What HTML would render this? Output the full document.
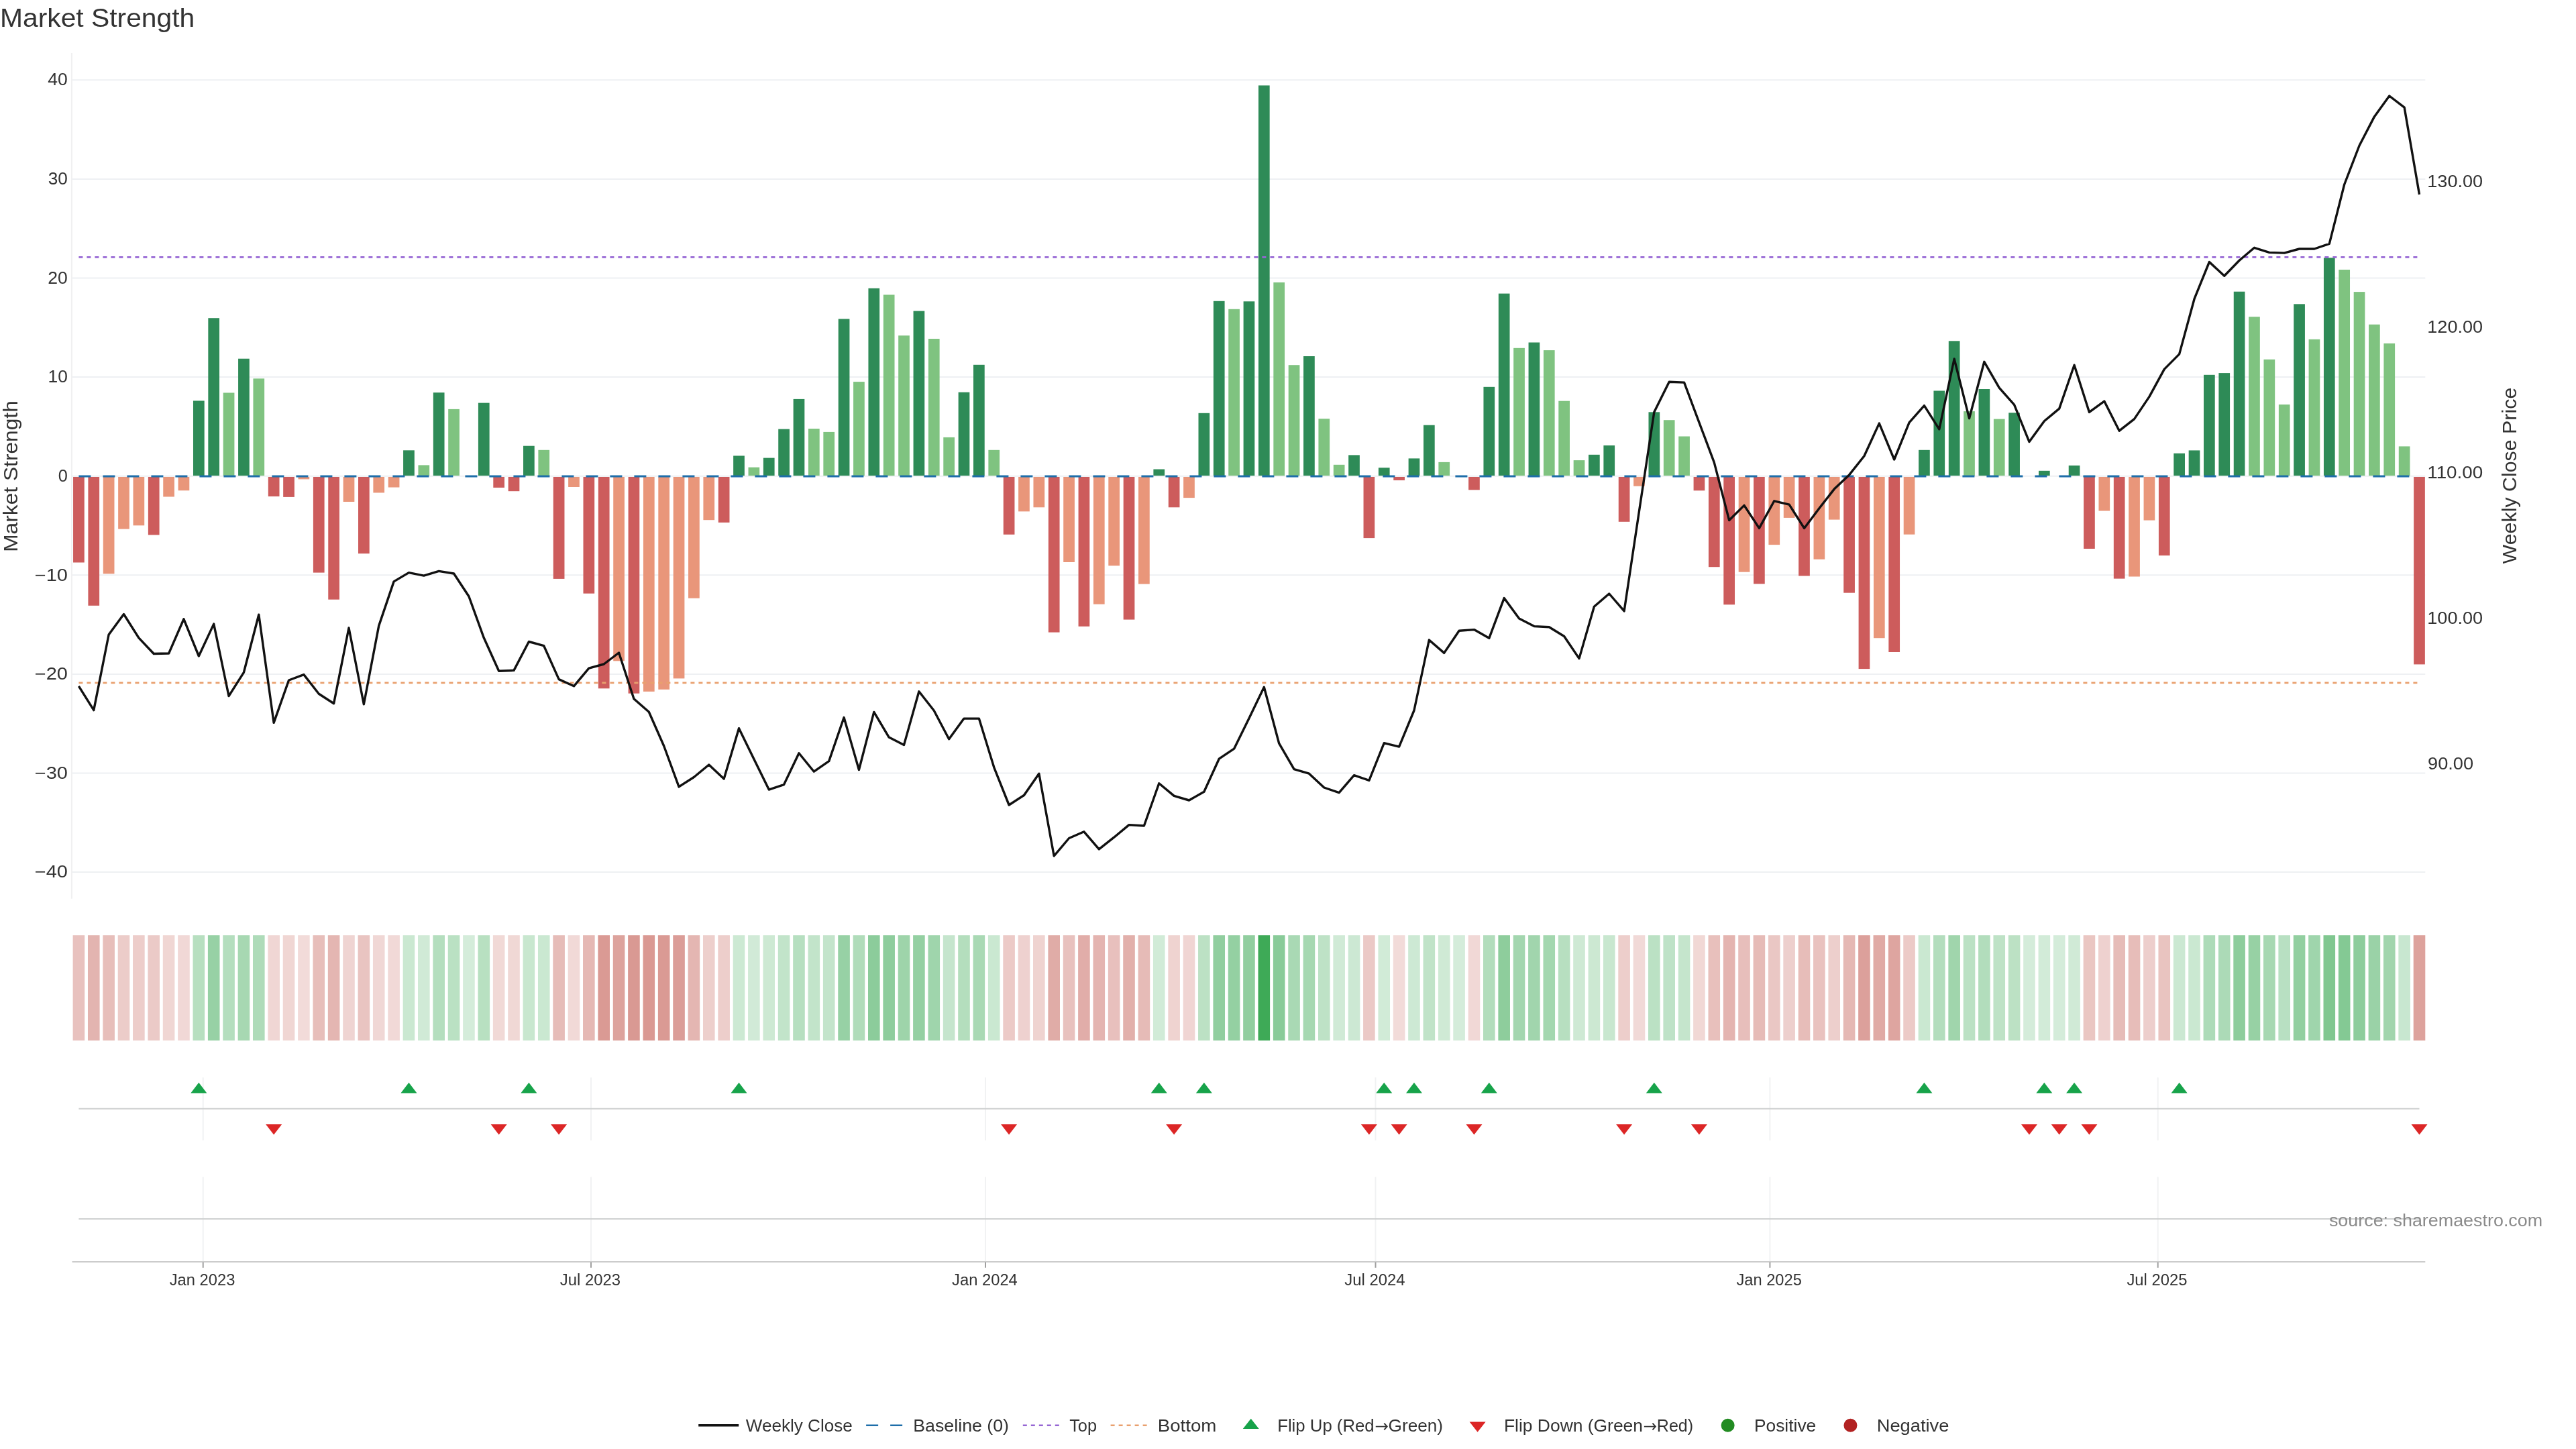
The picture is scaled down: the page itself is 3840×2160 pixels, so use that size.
<!DOCTYPE html>
<html><head><meta charset="utf-8"><title>Market Strength</title><style>html,body{margin:0;padding:0;background:#fff;width:3840px;height:2160px;overflow:hidden}body{position:relative;font-family:"Liberation Sans",sans-serif}</style></head><body>
<svg width="3840" height="2160" viewBox="0 0 3840 2160" style="position:absolute;left:0;top:0;will-change:transform;font-family:'Liberation Sans',sans-serif">
<rect width="3840" height="2160" fill="#fff"/>
<line x1="107.0" x2="3615.3" y1="1300.12" y2="1300.12" stroke="#EEF0F3" stroke-width="2"/>
<line x1="107.0" x2="3615.3" y1="1152.52" y2="1152.52" stroke="#EEF0F3" stroke-width="2"/>
<line x1="107.0" x2="3615.3" y1="1004.91" y2="1004.91" stroke="#EEF0F3" stroke-width="2"/>
<line x1="107.0" x2="3615.3" y1="857.31" y2="857.31" stroke="#EEF0F3" stroke-width="2"/>
<line x1="107.0" x2="3615.3" y1="709.70" y2="709.70" stroke="#EEF0F3" stroke-width="2"/>
<line x1="107.0" x2="3615.3" y1="562.10" y2="562.10" stroke="#EEF0F3" stroke-width="2"/>
<line x1="107.0" x2="3615.3" y1="414.49" y2="414.49" stroke="#EEF0F3" stroke-width="2"/>
<line x1="107.0" x2="3615.3" y1="266.89" y2="266.89" stroke="#EEF0F3" stroke-width="2"/>
<line x1="107.0" x2="3615.3" y1="119.28" y2="119.28" stroke="#EEF0F3" stroke-width="2"/>
<line x1="106.9" x2="106.9" y1="79" y2="1339.8" stroke="#F0F0F1" stroke-width="2"/>
<rect x="109.05" y="711.00" width="16.7" height="127.50" fill="#CD5C5C"/>
<rect x="131.42" y="711.00" width="16.7" height="191.80" fill="#CD5C5C"/>
<rect x="153.78" y="711.00" width="16.7" height="144.30" fill="#E9967A"/>
<rect x="176.15" y="711.00" width="16.7" height="77.60" fill="#E9967A"/>
<rect x="198.51" y="711.00" width="16.7" height="72.30" fill="#E9967A"/>
<rect x="220.88" y="711.00" width="16.7" height="86.40" fill="#CD5C5C"/>
<rect x="243.25" y="711.00" width="16.7" height="29.50" fill="#E9967A"/>
<rect x="265.61" y="711.00" width="16.7" height="20.20" fill="#E9967A"/>
<rect x="287.98" y="597.40" width="16.7" height="111.60" fill="#2E8B57"/>
<rect x="310.34" y="474.20" width="16.7" height="234.80" fill="#2E8B57"/>
<rect x="332.71" y="585.50" width="16.7" height="123.50" fill="#7FC380"/>
<rect x="355.08" y="534.70" width="16.7" height="174.30" fill="#2E8B57"/>
<rect x="377.44" y="564.30" width="16.7" height="144.70" fill="#7FC380"/>
<rect x="399.81" y="711.00" width="16.7" height="29.00" fill="#CD5C5C"/>
<rect x="422.17" y="711.00" width="16.7" height="29.90" fill="#CD5C5C"/>
<rect x="444.54" y="711.00" width="16.7" height="3.40" fill="#E9967A"/>
<rect x="466.91" y="711.00" width="16.7" height="142.60" fill="#CD5C5C"/>
<rect x="489.27" y="711.00" width="16.7" height="182.70" fill="#CD5C5C"/>
<rect x="511.64" y="711.00" width="16.7" height="37.00" fill="#E9967A"/>
<rect x="534.00" y="711.00" width="16.7" height="114.20" fill="#CD5C5C"/>
<rect x="556.37" y="711.00" width="16.7" height="23.50" fill="#E9967A"/>
<rect x="578.74" y="711.00" width="16.7" height="15.50" fill="#E9967A"/>
<rect x="601.10" y="671.30" width="16.7" height="37.70" fill="#2E8B57"/>
<rect x="623.47" y="693.40" width="16.7" height="15.60" fill="#7FC380"/>
<rect x="645.83" y="585.20" width="16.7" height="123.80" fill="#2E8B57"/>
<rect x="668.20" y="609.90" width="16.7" height="99.10" fill="#7FC380"/>
<rect x="712.93" y="600.60" width="16.7" height="108.40" fill="#2E8B57"/>
<rect x="735.30" y="711.00" width="16.7" height="15.90" fill="#CD5C5C"/>
<rect x="757.66" y="711.00" width="16.7" height="21.20" fill="#CD5C5C"/>
<rect x="780.03" y="664.70" width="16.7" height="44.30" fill="#2E8B57"/>
<rect x="802.40" y="670.80" width="16.7" height="38.20" fill="#7FC380"/>
<rect x="824.76" y="711.00" width="16.7" height="151.90" fill="#CD5C5C"/>
<rect x="847.13" y="711.00" width="16.7" height="15.00" fill="#E9967A"/>
<rect x="869.49" y="711.00" width="16.7" height="173.70" fill="#CD5C5C"/>
<rect x="891.86" y="711.00" width="16.7" height="315.30" fill="#CD5C5C"/>
<rect x="914.23" y="711.00" width="16.7" height="274.30" fill="#E9967A"/>
<rect x="936.59" y="711.00" width="16.7" height="322.70" fill="#CD5C5C"/>
<rect x="958.96" y="711.00" width="16.7" height="319.90" fill="#E9967A"/>
<rect x="981.32" y="711.00" width="16.7" height="316.80" fill="#E9967A"/>
<rect x="1003.69" y="711.00" width="16.7" height="300.40" fill="#E9967A"/>
<rect x="1026.06" y="711.00" width="16.7" height="180.80" fill="#E9967A"/>
<rect x="1048.42" y="711.00" width="16.7" height="64.20" fill="#E9967A"/>
<rect x="1070.79" y="711.00" width="16.7" height="67.90" fill="#CD5C5C"/>
<rect x="1093.15" y="679.40" width="16.7" height="29.60" fill="#2E8B57"/>
<rect x="1115.52" y="696.60" width="16.7" height="12.40" fill="#7FC380"/>
<rect x="1137.89" y="682.60" width="16.7" height="26.40" fill="#2E8B57"/>
<rect x="1160.25" y="639.60" width="16.7" height="69.40" fill="#2E8B57"/>
<rect x="1182.62" y="594.90" width="16.7" height="114.10" fill="#2E8B57"/>
<rect x="1204.98" y="639.00" width="16.7" height="70.00" fill="#7FC380"/>
<rect x="1227.35" y="643.90" width="16.7" height="65.10" fill="#7FC380"/>
<rect x="1249.72" y="475.40" width="16.7" height="233.60" fill="#2E8B57"/>
<rect x="1272.08" y="569.10" width="16.7" height="139.90" fill="#7FC380"/>
<rect x="1294.45" y="429.70" width="16.7" height="279.30" fill="#2E8B57"/>
<rect x="1316.81" y="439.40" width="16.7" height="269.60" fill="#7FC380"/>
<rect x="1339.18" y="500.20" width="16.7" height="208.80" fill="#7FC380"/>
<rect x="1361.55" y="463.60" width="16.7" height="245.40" fill="#2E8B57"/>
<rect x="1383.91" y="505.00" width="16.7" height="204.00" fill="#7FC380"/>
<rect x="1406.28" y="651.90" width="16.7" height="57.10" fill="#7FC380"/>
<rect x="1428.64" y="584.70" width="16.7" height="124.30" fill="#2E8B57"/>
<rect x="1451.01" y="543.80" width="16.7" height="165.20" fill="#2E8B57"/>
<rect x="1473.38" y="670.80" width="16.7" height="38.20" fill="#7FC380"/>
<rect x="1495.74" y="711.00" width="16.7" height="85.80" fill="#CD5C5C"/>
<rect x="1518.11" y="711.00" width="16.7" height="51.40" fill="#E9967A"/>
<rect x="1540.47" y="711.00" width="16.7" height="45.30" fill="#E9967A"/>
<rect x="1562.84" y="711.00" width="16.7" height="231.60" fill="#CD5C5C"/>
<rect x="1585.21" y="711.00" width="16.7" height="127.00" fill="#E9967A"/>
<rect x="1607.57" y="711.00" width="16.7" height="222.80" fill="#CD5C5C"/>
<rect x="1629.94" y="711.00" width="16.7" height="189.70" fill="#E9967A"/>
<rect x="1652.30" y="711.00" width="16.7" height="132.30" fill="#E9967A"/>
<rect x="1674.67" y="711.00" width="16.7" height="212.60" fill="#CD5C5C"/>
<rect x="1697.04" y="711.00" width="16.7" height="159.60" fill="#E9967A"/>
<rect x="1719.40" y="699.50" width="16.7" height="9.50" fill="#2E8B57"/>
<rect x="1741.77" y="711.00" width="16.7" height="45.30" fill="#CD5C5C"/>
<rect x="1764.13" y="711.00" width="16.7" height="31.10" fill="#E9967A"/>
<rect x="1786.50" y="615.80" width="16.7" height="93.20" fill="#2E8B57"/>
<rect x="1808.87" y="448.80" width="16.7" height="260.20" fill="#2E8B57"/>
<rect x="1831.23" y="460.80" width="16.7" height="248.20" fill="#7FC380"/>
<rect x="1853.60" y="449.30" width="16.7" height="259.70" fill="#2E8B57"/>
<rect x="1875.96" y="127.40" width="16.7" height="581.60" fill="#2E8B57"/>
<rect x="1898.33" y="421.00" width="16.7" height="288.00" fill="#7FC380"/>
<rect x="1920.70" y="544.20" width="16.7" height="164.80" fill="#7FC380"/>
<rect x="1943.06" y="531.00" width="16.7" height="178.00" fill="#2E8B57"/>
<rect x="1965.43" y="624.20" width="16.7" height="84.80" fill="#7FC380"/>
<rect x="1987.79" y="692.80" width="16.7" height="16.20" fill="#7FC380"/>
<rect x="2010.16" y="678.40" width="16.7" height="30.60" fill="#2E8B57"/>
<rect x="2032.53" y="711.00" width="16.7" height="91.10" fill="#CD5C5C"/>
<rect x="2054.89" y="697.20" width="16.7" height="11.80" fill="#2E8B57"/>
<rect x="2077.26" y="711.00" width="16.7" height="5.00" fill="#CD5C5C"/>
<rect x="2099.62" y="683.40" width="16.7" height="25.60" fill="#2E8B57"/>
<rect x="2121.99" y="633.70" width="16.7" height="75.30" fill="#2E8B57"/>
<rect x="2144.36" y="688.90" width="16.7" height="20.10" fill="#7FC380"/>
<rect x="2189.09" y="711.00" width="16.7" height="19.30" fill="#CD5C5C"/>
<rect x="2211.45" y="576.80" width="16.7" height="132.20" fill="#2E8B57"/>
<rect x="2233.82" y="437.60" width="16.7" height="271.40" fill="#2E8B57"/>
<rect x="2256.19" y="518.80" width="16.7" height="190.20" fill="#7FC380"/>
<rect x="2278.55" y="510.50" width="16.7" height="198.50" fill="#2E8B57"/>
<rect x="2300.92" y="522.10" width="16.7" height="186.90" fill="#7FC380"/>
<rect x="2323.28" y="597.70" width="16.7" height="111.30" fill="#7FC380"/>
<rect x="2345.65" y="686.10" width="16.7" height="22.90" fill="#7FC380"/>
<rect x="2368.02" y="677.80" width="16.7" height="31.20" fill="#2E8B57"/>
<rect x="2390.38" y="664.00" width="16.7" height="45.00" fill="#2E8B57"/>
<rect x="2412.75" y="711.00" width="16.7" height="66.80" fill="#CD5C5C"/>
<rect x="2435.11" y="711.00" width="16.7" height="13.70" fill="#E9967A"/>
<rect x="2457.48" y="614.30" width="16.7" height="94.70" fill="#2E8B57"/>
<rect x="2479.85" y="626.20" width="16.7" height="82.80" fill="#7FC380"/>
<rect x="2502.21" y="650.50" width="16.7" height="58.50" fill="#7FC380"/>
<rect x="2524.58" y="711.00" width="16.7" height="20.30" fill="#CD5C5C"/>
<rect x="2546.94" y="711.00" width="16.7" height="134.20" fill="#CD5C5C"/>
<rect x="2569.31" y="711.00" width="16.7" height="190.30" fill="#CD5C5C"/>
<rect x="2591.68" y="711.00" width="16.7" height="141.70" fill="#E9967A"/>
<rect x="2614.04" y="711.00" width="16.7" height="159.40" fill="#CD5C5C"/>
<rect x="2636.41" y="711.00" width="16.7" height="101.10" fill="#E9967A"/>
<rect x="2658.77" y="711.00" width="16.7" height="60.90" fill="#E9967A"/>
<rect x="2681.14" y="711.00" width="16.7" height="147.50" fill="#CD5C5C"/>
<rect x="2703.51" y="711.00" width="16.7" height="122.80" fill="#E9967A"/>
<rect x="2725.87" y="711.00" width="16.7" height="63.60" fill="#E9967A"/>
<rect x="2748.24" y="711.00" width="16.7" height="172.70" fill="#CD5C5C"/>
<rect x="2770.60" y="711.00" width="16.7" height="286.10" fill="#CD5C5C"/>
<rect x="2792.97" y="711.00" width="16.7" height="240.20" fill="#E9967A"/>
<rect x="2815.34" y="711.00" width="16.7" height="261.00" fill="#CD5C5C"/>
<rect x="2837.70" y="711.00" width="16.7" height="85.70" fill="#E9967A"/>
<rect x="2860.07" y="670.80" width="16.7" height="38.20" fill="#2E8B57"/>
<rect x="2882.43" y="582.50" width="16.7" height="126.50" fill="#2E8B57"/>
<rect x="2904.80" y="508.30" width="16.7" height="200.70" fill="#2E8B57"/>
<rect x="2927.17" y="613.10" width="16.7" height="95.90" fill="#7FC380"/>
<rect x="2949.53" y="580.00" width="16.7" height="129.00" fill="#2E8B57"/>
<rect x="2971.90" y="624.60" width="16.7" height="84.40" fill="#7FC380"/>
<rect x="2994.26" y="615.30" width="16.7" height="93.70" fill="#2E8B57"/>
<rect x="3039.00" y="701.80" width="16.7" height="7.20" fill="#2E8B57"/>
<rect x="3083.73" y="693.90" width="16.7" height="15.10" fill="#2E8B57"/>
<rect x="3106.09" y="711.00" width="16.7" height="107.00" fill="#CD5C5C"/>
<rect x="3128.46" y="711.00" width="16.7" height="50.50" fill="#E9967A"/>
<rect x="3150.83" y="711.00" width="16.7" height="151.60" fill="#CD5C5C"/>
<rect x="3173.19" y="711.00" width="16.7" height="148.50" fill="#E9967A"/>
<rect x="3195.56" y="711.00" width="16.7" height="64.60" fill="#E9967A"/>
<rect x="3217.92" y="711.00" width="16.7" height="117.10" fill="#CD5C5C"/>
<rect x="3240.29" y="675.80" width="16.7" height="33.20" fill="#2E8B57"/>
<rect x="3262.66" y="671.40" width="16.7" height="37.60" fill="#2E8B57"/>
<rect x="3285.02" y="558.80" width="16.7" height="150.20" fill="#2E8B57"/>
<rect x="3307.39" y="556.10" width="16.7" height="152.90" fill="#2E8B57"/>
<rect x="3329.75" y="434.70" width="16.7" height="274.30" fill="#2E8B57"/>
<rect x="3352.12" y="472.20" width="16.7" height="236.80" fill="#7FC380"/>
<rect x="3374.49" y="535.80" width="16.7" height="173.20" fill="#7FC380"/>
<rect x="3396.85" y="603.00" width="16.7" height="106.00" fill="#7FC380"/>
<rect x="3419.22" y="453.30" width="16.7" height="255.70" fill="#2E8B57"/>
<rect x="3441.58" y="505.80" width="16.7" height="203.20" fill="#7FC380"/>
<rect x="3463.95" y="384.30" width="16.7" height="324.70" fill="#2E8B57"/>
<rect x="3486.32" y="402.00" width="16.7" height="307.00" fill="#7FC380"/>
<rect x="3508.68" y="435.10" width="16.7" height="273.90" fill="#7FC380"/>
<rect x="3531.05" y="483.70" width="16.7" height="225.30" fill="#7FC380"/>
<rect x="3553.41" y="511.90" width="16.7" height="197.10" fill="#7FC380"/>
<rect x="3575.78" y="665.40" width="16.7" height="43.60" fill="#7FC380"/>
<rect x="3598.15" y="711.00" width="16.7" height="279.40" fill="#CD5C5C"/>
<line x1="117.40" x2="3606.50" y1="710.0" y2="710.0" stroke="#1E6EAA" stroke-width="3" stroke-dasharray="18,18"/>
<line x1="117.40" x2="3606.50" y1="383.3" y2="383.3" stroke="#9666D4" stroke-width="2.8" stroke-dasharray="6,6"/>
<line x1="117.40" x2="3606.50" y1="1017.9" y2="1017.9" stroke="#E9A06E" stroke-width="2.8" stroke-dasharray="6,6"/>
<polyline points="117.40,1022.80 139.77,1058.60 162.13,946.00 184.50,915.50 206.86,950.80 229.23,974.50 251.60,974.00 273.96,922.80 296.33,978.00 318.69,930.10 341.06,1037.60 363.43,1002.30 385.79,916.20 408.16,1077.40 430.52,1014.00 452.89,1005.60 475.26,1034.30 497.62,1048.70 519.99,936.00 542.35,1049.80 564.72,932.90 587.09,866.90 609.45,853.60 631.82,858.10 654.18,851.40 676.55,855.00 698.92,889.00 721.28,950.80 743.65,1000.30 766.01,999.40 788.38,956.50 810.75,962.70 833.11,1012.60 855.48,1022.80 877.84,996.20 900.21,990.00 922.58,973.00 944.94,1041.80 967.31,1061.20 989.67,1112.00 1012.04,1172.90 1034.41,1158.50 1056.77,1140.00 1079.14,1161.00 1101.50,1085.70 1123.87,1131.40 1146.24,1177.10 1168.60,1169.60 1190.97,1122.80 1213.33,1150.20 1235.70,1134.60 1258.07,1069.50 1280.43,1147.50 1302.80,1061.40 1325.16,1099.10 1347.53,1110.40 1369.90,1030.80 1392.26,1059.30 1414.63,1101.80 1436.99,1071.10 1459.36,1071.10 1481.73,1143.80 1504.09,1200.00 1526.46,1185.50 1548.82,1153.20 1571.19,1276.00 1593.56,1249.50 1615.92,1239.80 1638.29,1265.90 1660.65,1248.20 1683.02,1229.60 1705.39,1231.00 1727.75,1167.80 1750.12,1186.40 1772.48,1193.00 1794.85,1180.20 1817.22,1131.20 1839.58,1116.20 1861.95,1070.70 1884.31,1024.30 1906.68,1108.20 1929.05,1146.60 1951.41,1153.20 1973.78,1174.00 1996.14,1181.60 2018.51,1155.60 2040.88,1163.40 2063.24,1107.60 2085.61,1113.10 2107.97,1059.00 2130.34,954.00 2152.71,973.40 2175.07,940.20 2197.44,938.60 2219.80,951.30 2242.17,891.60 2264.54,922.00 2286.90,933.60 2309.27,934.70 2331.63,948.50 2354.00,981.60 2376.37,904.30 2398.73,885.00 2421.10,910.90 2443.46,762.00 2465.83,614.30 2488.20,569.30 2510.56,570.10 2532.93,629.80 2555.29,689.40 2577.66,775.50 2600.03,753.40 2622.39,787.40 2644.76,746.80 2667.12,752.10 2689.49,787.40 2711.86,757.80 2734.22,729.10 2756.59,707.90 2778.95,679.70 2801.32,631.10 2823.69,685.00 2846.05,629.80 2868.42,604.60 2890.78,639.90 2913.15,535.00 2935.52,623.70 2957.88,539.30 2980.25,578.20 3002.61,603.40 3024.98,658.60 3047.35,627.70 3069.71,609.10 3092.08,544.20 3114.44,614.40 3136.81,598.10 3159.18,642.20 3181.54,624.60 3203.91,591.40 3226.27,550.40 3248.64,527.90 3271.01,445.70 3293.37,390.50 3315.74,411.30 3338.10,388.30 3360.47,369.30 3382.84,376.40 3405.20,377.10 3427.57,371.00 3449.93,371.00 3472.30,363.30 3494.67,275.00 3517.03,217.00 3539.40,173.90 3561.76,143.00 3584.13,160.10 3606.50,289.90" fill="none" stroke="#111" stroke-width="3.4" stroke-linejoin="round"/>
<text transform="translate(51.74,1308.32) scale(1.1417,1)" font-size="25.43" fill="#333">−40</text>
<text transform="translate(51.74,1160.72) scale(1.1417,1)" font-size="25.43" fill="#333">−30</text>
<text transform="translate(51.74,1013.11) scale(1.1417,1)" font-size="25.43" fill="#333">−20</text>
<text transform="translate(51.74,865.51) scale(1.1417,1)" font-size="25.43" fill="#333">−10</text>
<text transform="translate(86.67,717.90) scale(0.9978,1)" font-size="25.43" fill="#333">0</text>
<text transform="translate(71.48,570.30) scale(1.0372,1)" font-size="25.43" fill="#333">10</text>
<text transform="translate(71.24,422.69) scale(1.0458,1)" font-size="25.43" fill="#333">20</text>
<text transform="translate(71.64,275.09) scale(1.0311,1)" font-size="25.43" fill="#333">30</text>
<text transform="translate(71.27,127.48) scale(1.0447,1)" font-size="25.43" fill="#333">40</text>
<text transform="translate(3618.30,278.50) scale(1.0662,1)" font-size="25.43" fill="#333">130.00</text>
<text transform="translate(3618.30,495.60) scale(1.0662,1)" font-size="25.43" fill="#333">120.00</text>
<text transform="translate(3618.24,712.70) scale(1.0937,1)" font-size="25.43" fill="#333">110.00</text>
<text transform="translate(3618.30,929.80) scale(1.0662,1)" font-size="25.43" fill="#333">100.00</text>
<text transform="translate(3619.09,1146.90) scale(1.0690,1)" font-size="25.43" fill="#333">90.00</text>
<text transform="translate(26.30,709.70) rotate(-90) translate(-113.11,0) scale(1.0692,1)" font-size="29.67" fill="#333">Market Strength</text>
<text transform="translate(3750.70,709.70) rotate(-90) translate(-130.69,0) scale(1.0235,1)" font-size="29.67" fill="#333">Weekly Close Price</text>
<text transform="translate(-0.05,39.80) scale(1.0700,1)" font-size="38.15" fill="#333">Market Strength</text>
<rect x="108.60" y="1394.2" width="17.6" height="156.9" fill="#E8C1BE"/>
<rect x="130.97" y="1394.2" width="17.6" height="156.9" fill="#E3B4B0"/>
<rect x="153.33" y="1394.2" width="17.6" height="156.9" fill="#E7BEBA"/>
<rect x="175.70" y="1394.2" width="17.6" height="156.9" fill="#ECCCC9"/>
<rect x="198.06" y="1394.2" width="17.6" height="156.9" fill="#EDCDCA"/>
<rect x="220.43" y="1394.2" width="17.6" height="156.9" fill="#EBCAC7"/>
<rect x="242.80" y="1394.2" width="17.6" height="156.9" fill="#F0D6D3"/>
<rect x="265.16" y="1394.2" width="17.6" height="156.9" fill="#F1D8D6"/>
<rect x="287.53" y="1394.2" width="17.6" height="156.9" fill="#B7DFC0"/>
<rect x="309.89" y="1394.2" width="17.6" height="156.9" fill="#97D1A5"/>
<rect x="332.26" y="1394.2" width="17.6" height="156.9" fill="#B4DEBE"/>
<rect x="354.63" y="1394.2" width="17.6" height="156.9" fill="#A7D8B2"/>
<rect x="376.99" y="1394.2" width="17.6" height="156.9" fill="#AEDBB9"/>
<rect x="399.36" y="1394.2" width="17.6" height="156.9" fill="#F0D6D4"/>
<rect x="421.72" y="1394.2" width="17.6" height="156.9" fill="#F0D6D3"/>
<rect x="444.09" y="1394.2" width="17.6" height="156.9" fill="#F2DBD9"/>
<rect x="466.46" y="1394.2" width="17.6" height="156.9" fill="#E7BEBA"/>
<rect x="488.82" y="1394.2" width="17.6" height="156.9" fill="#E4B6B2"/>
<rect x="511.19" y="1394.2" width="17.6" height="156.9" fill="#EFD4D2"/>
<rect x="533.55" y="1394.2" width="17.6" height="156.9" fill="#E9C4C1"/>
<rect x="555.92" y="1394.2" width="17.6" height="156.9" fill="#F0D7D5"/>
<rect x="578.29" y="1394.2" width="17.6" height="156.9" fill="#F1D9D7"/>
<rect x="600.65" y="1394.2" width="17.6" height="156.9" fill="#CAE8D1"/>
<rect x="623.02" y="1394.2" width="17.6" height="156.9" fill="#D0EAD6"/>
<rect x="645.38" y="1394.2" width="17.6" height="156.9" fill="#B4DEBE"/>
<rect x="667.75" y="1394.2" width="17.6" height="156.9" fill="#BAE1C3"/>
<rect x="690.12" y="1394.2" width="17.6" height="156.9" fill="#D4ECDA"/>
<rect x="712.48" y="1394.2" width="17.6" height="156.9" fill="#B8E0C1"/>
<rect x="734.85" y="1394.2" width="17.6" height="156.9" fill="#F1D9D6"/>
<rect x="757.21" y="1394.2" width="17.6" height="156.9" fill="#F0D8D5"/>
<rect x="779.58" y="1394.2" width="17.6" height="156.9" fill="#C8E7CF"/>
<rect x="801.95" y="1394.2" width="17.6" height="156.9" fill="#CAE8D1"/>
<rect x="824.31" y="1394.2" width="17.6" height="156.9" fill="#E6BCB8"/>
<rect x="846.68" y="1394.2" width="17.6" height="156.9" fill="#F1D9D7"/>
<rect x="869.04" y="1394.2" width="17.6" height="156.9" fill="#E5B8B4"/>
<rect x="891.41" y="1394.2" width="17.6" height="156.9" fill="#DA9A94"/>
<rect x="913.78" y="1394.2" width="17.6" height="156.9" fill="#DDA39D"/>
<rect x="936.14" y="1394.2" width="17.6" height="156.9" fill="#D99993"/>
<rect x="958.51" y="1394.2" width="17.6" height="156.9" fill="#DA9993"/>
<rect x="980.87" y="1394.2" width="17.6" height="156.9" fill="#DA9A94"/>
<rect x="1003.24" y="1394.2" width="17.6" height="156.9" fill="#DB9D98"/>
<rect x="1025.61" y="1394.2" width="17.6" height="156.9" fill="#E4B6B2"/>
<rect x="1047.97" y="1394.2" width="17.6" height="156.9" fill="#EDCFCC"/>
<rect x="1070.34" y="1394.2" width="17.6" height="156.9" fill="#EDCECB"/>
<rect x="1092.70" y="1394.2" width="17.6" height="156.9" fill="#CCE9D3"/>
<rect x="1115.07" y="1394.2" width="17.6" height="156.9" fill="#D1EAD7"/>
<rect x="1137.44" y="1394.2" width="17.6" height="156.9" fill="#CDE9D3"/>
<rect x="1159.80" y="1394.2" width="17.6" height="156.9" fill="#C2E4CA"/>
<rect x="1182.17" y="1394.2" width="17.6" height="156.9" fill="#B6DFC0"/>
<rect x="1204.53" y="1394.2" width="17.6" height="156.9" fill="#C2E4CA"/>
<rect x="1226.90" y="1394.2" width="17.6" height="156.9" fill="#C3E4CB"/>
<rect x="1249.27" y="1394.2" width="17.6" height="156.9" fill="#97D1A5"/>
<rect x="1271.63" y="1394.2" width="17.6" height="156.9" fill="#B0DCBA"/>
<rect x="1294.00" y="1394.2" width="17.6" height="156.9" fill="#8CCC9B"/>
<rect x="1316.36" y="1394.2" width="17.6" height="156.9" fill="#8ECD9D"/>
<rect x="1338.73" y="1394.2" width="17.6" height="156.9" fill="#9ED4AA"/>
<rect x="1361.10" y="1394.2" width="17.6" height="156.9" fill="#94D0A2"/>
<rect x="1383.46" y="1394.2" width="17.6" height="156.9" fill="#9FD5AC"/>
<rect x="1405.83" y="1394.2" width="17.6" height="156.9" fill="#C5E5CD"/>
<rect x="1428.19" y="1394.2" width="17.6" height="156.9" fill="#B4DEBD"/>
<rect x="1450.56" y="1394.2" width="17.6" height="156.9" fill="#A9D9B4"/>
<rect x="1472.93" y="1394.2" width="17.6" height="156.9" fill="#CAE8D1"/>
<rect x="1495.29" y="1394.2" width="17.6" height="156.9" fill="#ECCAC7"/>
<rect x="1517.66" y="1394.2" width="17.6" height="156.9" fill="#EED1CF"/>
<rect x="1540.02" y="1394.2" width="17.6" height="156.9" fill="#EFD3D0"/>
<rect x="1562.39" y="1394.2" width="17.6" height="156.9" fill="#E0ACA7"/>
<rect x="1584.76" y="1394.2" width="17.6" height="156.9" fill="#E8C1BE"/>
<rect x="1607.12" y="1394.2" width="17.6" height="156.9" fill="#E1ADA9"/>
<rect x="1629.49" y="1394.2" width="17.6" height="156.9" fill="#E4B4B0"/>
<rect x="1651.85" y="1394.2" width="17.6" height="156.9" fill="#E8C0BD"/>
<rect x="1674.22" y="1394.2" width="17.6" height="156.9" fill="#E2B0AB"/>
<rect x="1696.59" y="1394.2" width="17.6" height="156.9" fill="#E6BBB7"/>
<rect x="1718.95" y="1394.2" width="17.6" height="156.9" fill="#D1EBD7"/>
<rect x="1741.32" y="1394.2" width="17.6" height="156.9" fill="#EFD3D0"/>
<rect x="1763.68" y="1394.2" width="17.6" height="156.9" fill="#F0D5D3"/>
<rect x="1786.05" y="1394.2" width="17.6" height="156.9" fill="#BCE1C4"/>
<rect x="1808.42" y="1394.2" width="17.6" height="156.9" fill="#91CE9F"/>
<rect x="1830.78" y="1394.2" width="17.6" height="156.9" fill="#94D0A2"/>
<rect x="1853.15" y="1394.2" width="17.6" height="156.9" fill="#91CE9F"/>
<rect x="1875.51" y="1394.2" width="17.6" height="156.9" fill="#3EAA57"/>
<rect x="1897.88" y="1394.2" width="17.6" height="156.9" fill="#89CB99"/>
<rect x="1920.25" y="1394.2" width="17.6" height="156.9" fill="#A9D9B4"/>
<rect x="1942.61" y="1394.2" width="17.6" height="156.9" fill="#A6D8B1"/>
<rect x="1964.98" y="1394.2" width="17.6" height="156.9" fill="#BEE2C6"/>
<rect x="1987.34" y="1394.2" width="17.6" height="156.9" fill="#D0EAD6"/>
<rect x="2009.71" y="1394.2" width="17.6" height="156.9" fill="#CCE8D3"/>
<rect x="2032.08" y="1394.2" width="17.6" height="156.9" fill="#EBC9C6"/>
<rect x="2054.44" y="1394.2" width="17.6" height="156.9" fill="#D1EBD7"/>
<rect x="2076.81" y="1394.2" width="17.6" height="156.9" fill="#F2DBD9"/>
<rect x="2099.17" y="1394.2" width="17.6" height="156.9" fill="#CDE9D4"/>
<rect x="2121.54" y="1394.2" width="17.6" height="156.9" fill="#C0E3C8"/>
<rect x="2143.91" y="1394.2" width="17.6" height="156.9" fill="#CFEAD5"/>
<rect x="2166.27" y="1394.2" width="17.6" height="156.9" fill="#D4ECDA"/>
<rect x="2188.64" y="1394.2" width="17.6" height="156.9" fill="#F1D8D6"/>
<rect x="2211.00" y="1394.2" width="17.6" height="156.9" fill="#B2DDBC"/>
<rect x="2233.37" y="1394.2" width="17.6" height="156.9" fill="#8ECD9C"/>
<rect x="2255.74" y="1394.2" width="17.6" height="156.9" fill="#A3D6AF"/>
<rect x="2278.10" y="1394.2" width="17.6" height="156.9" fill="#A1D5AD"/>
<rect x="2300.47" y="1394.2" width="17.6" height="156.9" fill="#A3D7AF"/>
<rect x="2322.83" y="1394.2" width="17.6" height="156.9" fill="#B7DFC0"/>
<rect x="2345.20" y="1394.2" width="17.6" height="156.9" fill="#CEE9D4"/>
<rect x="2367.57" y="1394.2" width="17.6" height="156.9" fill="#CCE8D2"/>
<rect x="2389.93" y="1394.2" width="17.6" height="156.9" fill="#C8E7CF"/>
<rect x="2412.30" y="1394.2" width="17.6" height="156.9" fill="#EDCECB"/>
<rect x="2434.66" y="1394.2" width="17.6" height="156.9" fill="#F1D9D7"/>
<rect x="2457.03" y="1394.2" width="17.6" height="156.9" fill="#BBE1C4"/>
<rect x="2479.40" y="1394.2" width="17.6" height="156.9" fill="#BEE2C7"/>
<rect x="2501.76" y="1394.2" width="17.6" height="156.9" fill="#C5E5CC"/>
<rect x="2524.13" y="1394.2" width="17.6" height="156.9" fill="#F1D8D5"/>
<rect x="2546.49" y="1394.2" width="17.6" height="156.9" fill="#E8C0BC"/>
<rect x="2568.86" y="1394.2" width="17.6" height="156.9" fill="#E4B4B0"/>
<rect x="2591.23" y="1394.2" width="17.6" height="156.9" fill="#E7BEBB"/>
<rect x="2613.59" y="1394.2" width="17.6" height="156.9" fill="#E6BBB7"/>
<rect x="2635.96" y="1394.2" width="17.6" height="156.9" fill="#EAC7C4"/>
<rect x="2658.32" y="1394.2" width="17.6" height="156.9" fill="#EDCFCD"/>
<rect x="2680.69" y="1394.2" width="17.6" height="156.9" fill="#E7BDB9"/>
<rect x="2703.06" y="1394.2" width="17.6" height="156.9" fill="#E9C2BF"/>
<rect x="2725.42" y="1394.2" width="17.6" height="156.9" fill="#EDCFCC"/>
<rect x="2747.79" y="1394.2" width="17.6" height="156.9" fill="#E5B8B4"/>
<rect x="2770.15" y="1394.2" width="17.6" height="156.9" fill="#DCA09B"/>
<rect x="2792.52" y="1394.2" width="17.6" height="156.9" fill="#E0AAA5"/>
<rect x="2814.89" y="1394.2" width="17.6" height="156.9" fill="#DEA5A0"/>
<rect x="2837.25" y="1394.2" width="17.6" height="156.9" fill="#ECCAC7"/>
<rect x="2859.62" y="1394.2" width="17.6" height="156.9" fill="#CAE8D1"/>
<rect x="2881.98" y="1394.2" width="17.6" height="156.9" fill="#B3DDBD"/>
<rect x="2904.35" y="1394.2" width="17.6" height="156.9" fill="#A0D5AC"/>
<rect x="2926.72" y="1394.2" width="17.6" height="156.9" fill="#BBE1C4"/>
<rect x="2949.08" y="1394.2" width="17.6" height="156.9" fill="#B2DDBC"/>
<rect x="2971.45" y="1394.2" width="17.6" height="156.9" fill="#BEE2C6"/>
<rect x="2993.81" y="1394.2" width="17.6" height="156.9" fill="#BCE1C4"/>
<rect x="3016.18" y="1394.2" width="17.6" height="156.9" fill="#D4ECDA"/>
<rect x="3038.55" y="1394.2" width="17.6" height="156.9" fill="#D2EBD8"/>
<rect x="3060.91" y="1394.2" width="17.6" height="156.9" fill="#D4ECDA"/>
<rect x="3083.28" y="1394.2" width="17.6" height="156.9" fill="#D0EAD6"/>
<rect x="3105.64" y="1394.2" width="17.6" height="156.9" fill="#EAC6C2"/>
<rect x="3128.01" y="1394.2" width="17.6" height="156.9" fill="#EED1CF"/>
<rect x="3150.38" y="1394.2" width="17.6" height="156.9" fill="#E6BCB8"/>
<rect x="3172.74" y="1394.2" width="17.6" height="156.9" fill="#E7BDB9"/>
<rect x="3195.11" y="1394.2" width="17.6" height="156.9" fill="#EDCECC"/>
<rect x="3217.47" y="1394.2" width="17.6" height="156.9" fill="#E9C4C0"/>
<rect x="3239.84" y="1394.2" width="17.6" height="156.9" fill="#CBE8D2"/>
<rect x="3262.21" y="1394.2" width="17.6" height="156.9" fill="#CAE8D1"/>
<rect x="3284.57" y="1394.2" width="17.6" height="156.9" fill="#ADDBB8"/>
<rect x="3306.94" y="1394.2" width="17.6" height="156.9" fill="#ACDAB7"/>
<rect x="3329.30" y="1394.2" width="17.6" height="156.9" fill="#8DCD9C"/>
<rect x="3351.67" y="1394.2" width="17.6" height="156.9" fill="#97D1A4"/>
<rect x="3374.04" y="1394.2" width="17.6" height="156.9" fill="#A7D8B2"/>
<rect x="3396.40" y="1394.2" width="17.6" height="156.9" fill="#B8E0C2"/>
<rect x="3418.77" y="1394.2" width="17.6" height="156.9" fill="#92CFA0"/>
<rect x="3441.13" y="1394.2" width="17.6" height="156.9" fill="#9FD5AC"/>
<rect x="3463.50" y="1394.2" width="17.6" height="156.9" fill="#80C790"/>
<rect x="3485.87" y="1394.2" width="17.6" height="156.9" fill="#84C994"/>
<rect x="3508.23" y="1394.2" width="17.6" height="156.9" fill="#8DCD9C"/>
<rect x="3530.60" y="1394.2" width="17.6" height="156.9" fill="#9AD2A7"/>
<rect x="3552.96" y="1394.2" width="17.6" height="156.9" fill="#A1D5AD"/>
<rect x="3575.33" y="1394.2" width="17.6" height="156.9" fill="#C8E7D0"/>
<rect x="3597.70" y="1394.2" width="17.6" height="156.9" fill="#DDA29C"/>
<line x1="302.7" x2="302.7" y1="1606.2" y2="1700" stroke="#F1F2F3" stroke-width="2"/>
<line x1="302.7" x2="302.7" y1="1754.4" y2="1880" stroke="#F1F2F3" stroke-width="2"/>
<line x1="881.0" x2="881.0" y1="1606.2" y2="1700" stroke="#F1F2F3" stroke-width="2"/>
<line x1="881.0" x2="881.0" y1="1754.4" y2="1880" stroke="#F1F2F3" stroke-width="2"/>
<line x1="1469.0" x2="1469.0" y1="1606.2" y2="1700" stroke="#F1F2F3" stroke-width="2"/>
<line x1="1469.0" x2="1469.0" y1="1754.4" y2="1880" stroke="#F1F2F3" stroke-width="2"/>
<line x1="2050.5" x2="2050.5" y1="1606.2" y2="1700" stroke="#F1F2F3" stroke-width="2"/>
<line x1="2050.5" x2="2050.5" y1="1754.4" y2="1880" stroke="#F1F2F3" stroke-width="2"/>
<line x1="2638.4" x2="2638.4" y1="1606.2" y2="1700" stroke="#F1F2F3" stroke-width="2"/>
<line x1="2638.4" x2="2638.4" y1="1754.4" y2="1880" stroke="#F1F2F3" stroke-width="2"/>
<line x1="3216.7" x2="3216.7" y1="1606.2" y2="1700" stroke="#F1F2F3" stroke-width="2"/>
<line x1="3216.7" x2="3216.7" y1="1754.4" y2="1880" stroke="#F1F2F3" stroke-width="2"/>
<line x1="117.40" x2="3606.50" y1="1652.7" y2="1652.7" stroke="#CFD1D1" stroke-width="2"/>
<line x1="117.40" x2="3606.50" y1="1816.9" y2="1816.9" stroke="#CFD1D1" stroke-width="2"/>
<path d="M284.32,1629.40H308.34L296.33,1613.80Z" fill="#17A34A"/>
<path d="M597.44,1629.40H621.46L609.45,1613.80Z" fill="#17A34A"/>
<path d="M776.37,1629.40H800.39L788.38,1613.80Z" fill="#17A34A"/>
<path d="M1089.50,1629.40H1113.51L1101.50,1613.80Z" fill="#17A34A"/>
<path d="M1715.74,1629.40H1739.76L1727.75,1613.80Z" fill="#17A34A"/>
<path d="M1782.84,1629.40H1806.86L1794.85,1613.80Z" fill="#17A34A"/>
<path d="M2051.23,1629.40H2075.25L2063.24,1613.80Z" fill="#17A34A"/>
<path d="M2095.97,1629.40H2119.98L2107.97,1613.80Z" fill="#17A34A"/>
<path d="M2207.80,1629.40H2231.81L2219.80,1613.80Z" fill="#17A34A"/>
<path d="M2453.82,1629.40H2477.84L2465.83,1613.80Z" fill="#17A34A"/>
<path d="M2856.41,1629.40H2880.43L2868.42,1613.80Z" fill="#17A34A"/>
<path d="M3035.34,1629.40H3059.35L3047.35,1613.80Z" fill="#17A34A"/>
<path d="M3080.07,1629.40H3104.09L3092.08,1613.80Z" fill="#17A34A"/>
<path d="M3236.63,1629.40H3260.65L3248.64,1613.80Z" fill="#17A34A"/>
<path d="M396.15,1675.90H420.17L408.16,1691.50Z" fill="#DC2626"/>
<path d="M731.64,1675.90H755.66L743.65,1691.50Z" fill="#DC2626"/>
<path d="M821.10,1675.90H845.12L833.11,1691.50Z" fill="#DC2626"/>
<path d="M1492.08,1675.90H1516.10L1504.09,1691.50Z" fill="#DC2626"/>
<path d="M1738.11,1675.90H1762.13L1750.12,1691.50Z" fill="#DC2626"/>
<path d="M2028.87,1675.90H2052.88L2040.88,1691.50Z" fill="#DC2626"/>
<path d="M2073.60,1675.90H2097.62L2085.61,1691.50Z" fill="#DC2626"/>
<path d="M2185.43,1675.90H2209.45L2197.44,1691.50Z" fill="#DC2626"/>
<path d="M2409.09,1675.90H2433.11L2421.10,1691.50Z" fill="#DC2626"/>
<path d="M2520.92,1675.90H2544.94L2532.93,1691.50Z" fill="#DC2626"/>
<path d="M3012.97,1675.90H3036.99L3024.98,1691.50Z" fill="#DC2626"/>
<path d="M3057.70,1675.90H3081.72L3069.71,1691.50Z" fill="#DC2626"/>
<path d="M3102.44,1675.90H3126.45L3114.44,1691.50Z" fill="#DC2626"/>
<path d="M3594.49,1675.90H3618.50L3606.50,1691.50Z" fill="#DC2626"/>
<line x1="107.5" x2="3615.3" y1="1880.9" y2="1880.9" stroke="#CCCCCC" stroke-width="2"/>
<line x1="302.7" x2="302.7" y1="1881.5" y2="1889.8" stroke="#A0A0A0" stroke-width="2"/>
<text transform="translate(252.74,1915.90) scale(1.0185,1)" font-size="23.31" fill="#333">Jan 2023</text>
<line x1="881.0" x2="881.0" y1="1881.5" y2="1889.8" stroke="#A0A0A0" stroke-width="2"/>
<text transform="translate(834.72,1915.90) scale(1.0248,1)" font-size="23.31" fill="#333">Jul 2023</text>
<line x1="1469.0" x2="1469.0" y1="1881.5" y2="1889.8" stroke="#A0A0A0" stroke-width="2"/>
<text transform="translate(1419.04,1915.90) scale(1.0198,1)" font-size="23.31" fill="#333">Jan 2024</text>
<line x1="2050.5" x2="2050.5" y1="1881.5" y2="1889.8" stroke="#A0A0A0" stroke-width="2"/>
<text transform="translate(2004.22,1915.90) scale(1.0261,1)" font-size="23.31" fill="#333">Jul 2024</text>
<line x1="2638.4" x2="2638.4" y1="1881.5" y2="1889.8" stroke="#A0A0A0" stroke-width="2"/>
<text transform="translate(2588.44,1915.90) scale(1.0159,1)" font-size="23.31" fill="#333">Jan 2025</text>
<line x1="3216.7" x2="3216.7" y1="1881.5" y2="1889.8" stroke="#A0A0A0" stroke-width="2"/>
<text transform="translate(3170.43,1915.90) scale(1.0218,1)" font-size="23.31" fill="#333">Jul 2025</text>
<text transform="translate(3471.90,1827.60) scale(1.0581,1)" font-size="25.43" fill="#8A8A8A">source: sharemaestro.com</text>
<line x1="1041.20" x2="1101.20" y1="2124.8" y2="2124.8" stroke="#111" stroke-width="3.6"/>
<text transform="translate(1111.82,2134.00) scale(1.0255,1)" font-size="25.43" fill="#333">Weekly Close</text>
<line x1="1291.13" x2="1351.13" y1="2124.8" y2="2124.8" stroke="#1E6EAA" stroke-width="2.6" stroke-dasharray="18,18"/>
<text transform="translate(1361.27,2134.00) scale(1.0527,1)" font-size="25.43" fill="#333">Baseline (0)</text>
<line x1="1524.81" x2="1584.81" y1="2124.8" y2="2124.8" stroke="#9666D4" stroke-width="2.6" stroke-dasharray="6,6"/>
<text transform="translate(1594.19,2134.00) scale(0.9978,1)" font-size="25.43" fill="#333">Top</text>
<line x1="1655.61" x2="1715.61" y1="2124.8" y2="2124.8" stroke="#E9A06E" stroke-width="2.6" stroke-dasharray="6,6"/>
<text transform="translate(1725.67,2134.00) scale(1.0890,1)" font-size="25.43" fill="#333">Bottom</text>
<path d="M1852.73,2130.10H1876.75L1864.74,2114.80Z" fill="#17A34A"/>
<text transform="translate(1904.16,2134.00) scale(1.0131,1)" font-size="25.43" fill="#333">Flip Up (Red</text><path d="M2050.74,2126.55H2067.54" stroke="#333" stroke-width="1.7" fill="none"/><path d="M2063.34,2121.70L2067.64,2126.55L2063.34,2131.40" stroke="#333" stroke-width="2.0" fill="none" stroke-linejoin="miter"/><text transform="translate(2069.53,2134.00) scale(1.0306,1)" font-size="25.43" fill="#333">Green)</text>
<path d="M2190.58,2119.50H2214.60L2202.59,2134.70Z" fill="#DC2626"/>
<text transform="translate(2241.95,2134.00) scale(1.0394,1)" font-size="25.43" fill="#333">Flip Down (Green</text><path d="M2450.87,2126.55H2467.67" stroke="#333" stroke-width="1.7" fill="none"/><path d="M2463.47,2121.70L2467.77,2126.55L2463.47,2131.40" stroke="#333" stroke-width="2.0" fill="none" stroke-linejoin="miter"/><text transform="translate(2469.85,2134.00) scale(0.9857,1)" font-size="25.43" fill="#333">Red)</text>
<circle cx="2575.64" cy="2124.7" r="10" fill="#228B22"/>
<text transform="translate(2615.01,2134.00) scale(1.0357,1)" font-size="25.43" fill="#333">Positive</text>
<circle cx="2758.46" cy="2124.7" r="10" fill="#B22222"/>
<text transform="translate(2797.75,2134.00) scale(1.0725,1)" font-size="25.43" fill="#333">Negative</text>
</svg>
</body></html>
